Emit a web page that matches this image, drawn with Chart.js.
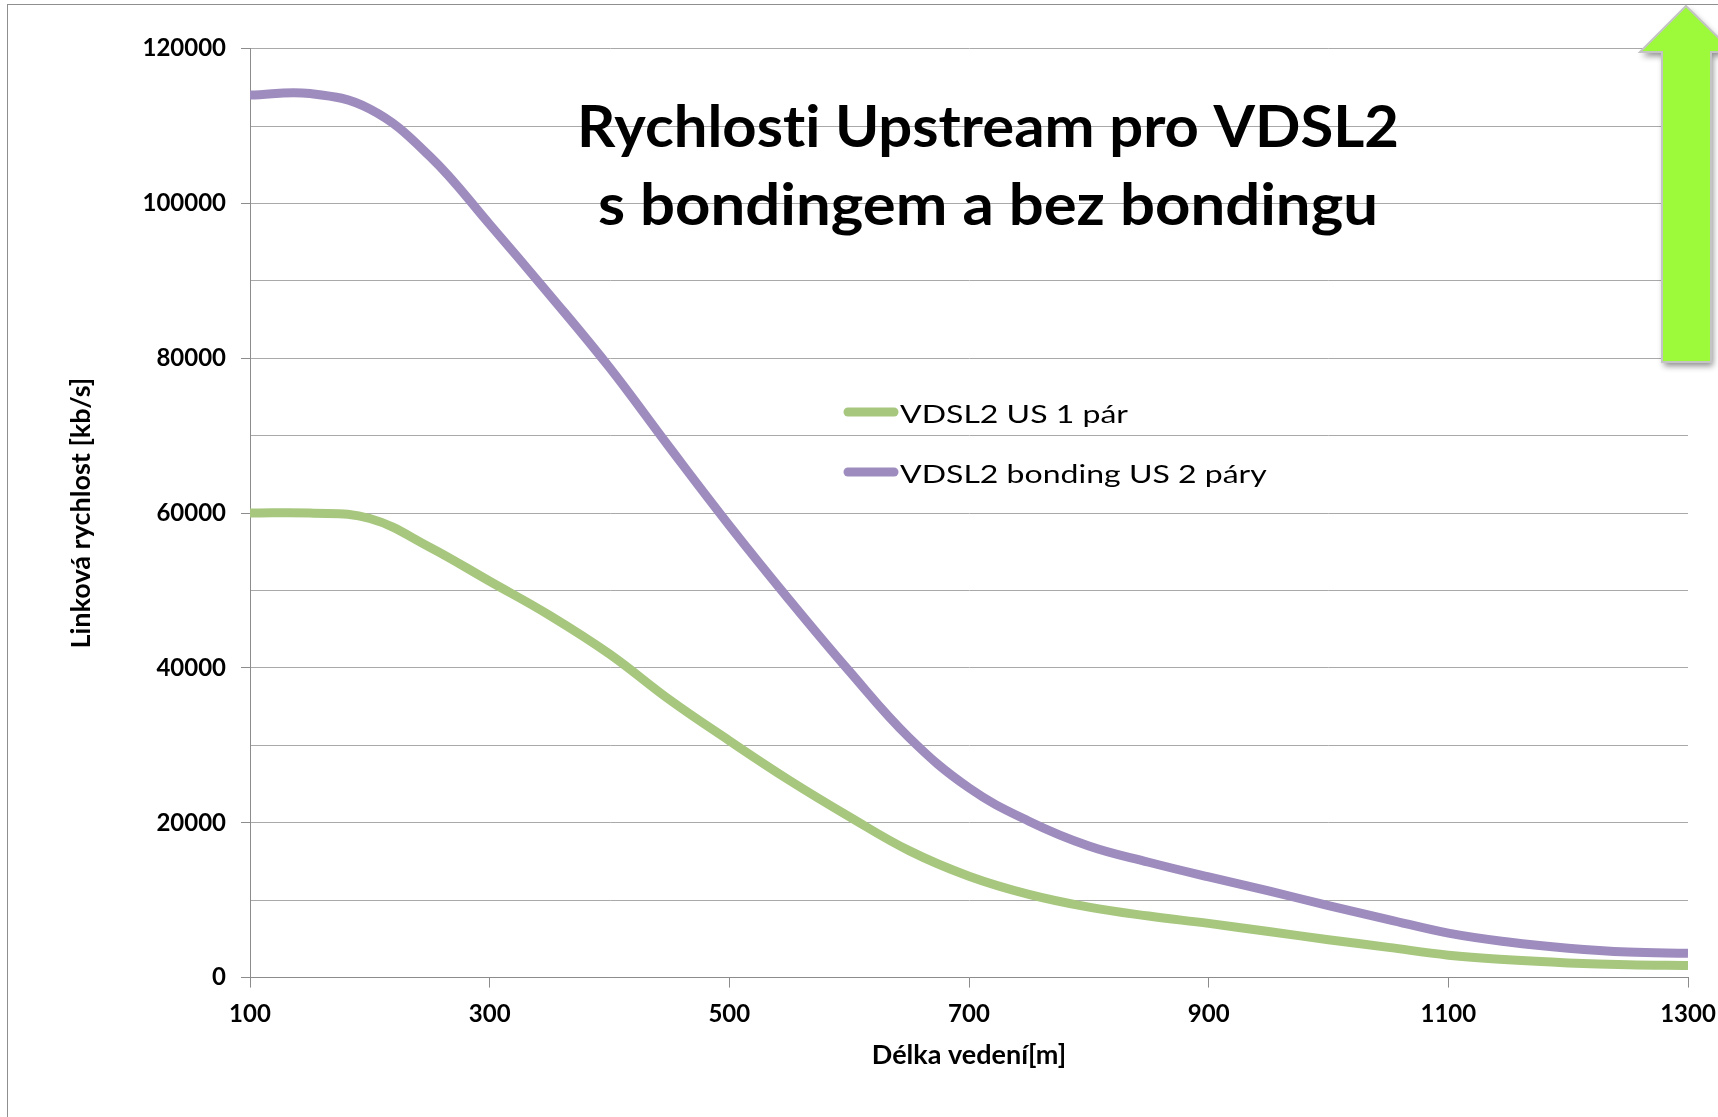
<!DOCTYPE html>
<html>
<head>
<meta charset="utf-8">
<script src="https://cdn.jsdelivr.net/npm/chart.js@4.4.1/dist/chart.umd.min.js"></script>
<style>
  html, body { margin: 0; padding: 0; background: #ffffff; }
  canvas { display: block; }
</style>
</head>
<body>
<canvas id="c" width="1718" height="1117"></canvas>
<script>
// ---- data ----
const distances = [100, 150, 200, 250, 300, 350, 400, 450, 500, 550, 600, 650, 700,
                   750, 800, 850, 900, 950, 1000, 1050, 1100, 1150, 1200, 1250, 1300];
const us1Pair = [60000, 60000, 59300, 55600, 51200, 46800, 41800, 35900, 30600, 25500, 20800, 16400, 13100,
                 10750, 9100, 7950, 7000, 5950, 4900, 3900, 2900, 2300, 1900, 1650, 1550];
const bonding2Pairs = [114000, 114200, 112200, 106100, 97300, 88200, 78800, 68500, 58400, 48800, 39600, 31000, 24500,
                       20200, 17000, 14900, 13000, 11200, 9300, 7500, 5750, 4600, 3800, 3300, 3150];
const seriesNames = ['VDSL2 US 1 pár', 'VDSL2 bonding US 2 páry'];
const seriesColors = ['#a7c77f', '#9e8cbe'];
const xTickValues = [100, 300, 500, 700, 900, 1100, 1300];
const yTickValues = [0, 20000, 40000, 60000, 80000, 100000, 120000];
const titleLines = ['Rychlosti Upstream pro VDSL2', 's bondingem a bez bondingu'];
const xAxisTitle = 'Délka vedení[m]';
const yAxisTitle = 'Linková rychlost [kb/s]';

const FONT = 'Lato, "Open Sans", "DejaVu Sans", sans-serif';

function toPoints(xs, ys) { return xs.map((x, i) => ({ x: x, y: ys[i] })); }

function measure(ctx, text, font) {
  ctx.save();
  ctx.font = font;
  try { ctx.letterSpacing = '0.01px'; } catch (e) {}
  const w = ctx.measureText(text).width;
  ctx.restore();
  return w;
}

function drawScaledText(ctx, text, x, baseline, font, sx, align) {
  ctx.save();
  ctx.font = font;
  try { ctx.letterSpacing = '0.01px'; } catch (e) {}
  ctx.textAlign = align;
  ctx.textBaseline = 'alphabetic';
  ctx.translate(x, baseline);
  ctx.scale(sx, 1);
  ctx.fillStyle = '#000000';
  ctx.fillText(text, 0, 0);
  ctx.restore();
}

const decor = {
  id: 'decor',
  afterDraw(chart) {
    const ctx = chart.ctx;
    ctx.save();
    // outer frame
    ctx.strokeStyle = '#8f8f8f';
    ctx.lineWidth = 1;
    ctx.strokeRect(7.5, 4.5, 1900, 1300);

    // title
    const tFont = 'bold 57px ' + FONT;
    const tsx1 = 822 / measure(ctx, titleLines[0], tFont);
    const tsx2 = 780 / measure(ctx, titleLines[1], tFont);
    drawScaledText(ctx, titleLines[0], 988, 147, tFont, tsx1, 'center');
    drawScaledText(ctx, titleLines[1], 988, 225, tFont, tsx2, 'center');

    // legend
    const lFont = '25.5px ' + FONT;
    const lsx = 228 / measure(ctx, chart.data.datasets[0].label, lFont);
    const rows = [412, 472];
    chart.data.datasets.forEach((ds, i) => {
      ctx.save();
      ctx.strokeStyle = ds.borderColor;
      ctx.lineWidth = 9;
      ctx.lineCap = 'round';
      ctx.beginPath();
      ctx.moveTo(848, rows[i]);
      ctx.lineTo(894, rows[i]);
      ctx.stroke();
      ctx.restore();
      drawScaledText(ctx, ds.label, 900, rows[i] + 11, lFont, lsx, 'left');
    });

    // green arrow
    ctx.save();
    ctx.beginPath();
    ctx.moveTo(1686, 6);
    ctx.lineTo(1733, 52);
    ctx.lineTo(1711, 52);
    ctx.lineTo(1711, 362);
    ctx.lineTo(1662, 362);
    ctx.lineTo(1662, 52);
    ctx.lineTo(1640, 52);
    ctx.closePath();
    ctx.shadowColor = 'rgba(0,0,0,0.45)';
    ctx.shadowBlur = 6;
    ctx.shadowOffsetX = 2;
    ctx.shadowOffsetY = 4;
    ctx.fillStyle = '#9dfa3a';
    ctx.fill();
    ctx.shadowColor = 'rgba(0,0,0,0)';
    ctx.strokeStyle = '#c4c4c4';
    ctx.lineWidth = 2;
    ctx.stroke();
    ctx.restore();

    ctx.restore();
  }
};

Chart.defaults.font.family = FONT;
Chart.defaults.color = '#000000';

new Chart(document.getElementById('c'), {
  type: 'line',
  data: {
    datasets: [
      { label: seriesNames[0], data: toPoints(distances, us1Pair), borderColor: seriesColors[0],
        borderWidth: 9, pointRadius: 0, tension: 0.4, fill: false },
      { label: seriesNames[1], data: toPoints(distances, bonding2Pairs), borderColor: seriesColors[1],
        borderWidth: 9, pointRadius: 0, tension: 0.4, fill: false }
    ]
  },
  options: {
    responsive: false,
    animation: false,
    devicePixelRatio: 1,
    layout: { padding: { left: 0, right: 30, top: 48.6, bottom: 0 } },
    plugins: { legend: { display: false }, title: { display: false }, tooltip: { enabled: false } },
    scales: {
      x: {
        type: 'linear',
        min: 100, max: 1300,
        afterFit(scale) { scale.height = 1117 - 977.6; scale.paddingRight = 0; scale.paddingLeft = 0; },
        afterBuildTicks(scale) { scale.ticks = xTickValues.map(v => ({ value: v })); },
        ticks: { font: { size: 24, weight: 'bold' }, padding: 12, maxRotation: 0, autoSkip: false, color: '#000',
                 callback: (v) => String(v) },
        grid: { drawOnChartArea: false, drawTicks: true, tickLength: 10, color: '#8c8c8c', lineWidth: 1 },
        border: { display: true, color: '#8c8c8c', width: 1 },
        title: { display: true, text: xAxisTitle, font: { size: 27, weight: 'bold' }, color: '#000',
                 padding: { top: 0, bottom: 46 } }
      },
      y: {
        type: 'linear',
        min: 0, max: 120000,
        afterFit(scale) { scale.width = 250; scale.paddingTop = 0; scale.paddingBottom = 0; },
        ticks: {
          stepSize: 10000,
          font: { size: 24, weight: 'bold' },
          padding: 15,
          color: '#000',
          callback: (v) => (yTickValues.includes(v) ? String(v) : '')
        },
        grid: {
          color: '#a9a9a9', lineWidth: 1, drawTicks: true, tickLength: 9,
          tickColor: (c) => (c.tick && yTickValues.includes(c.tick.value) ? '#8c8c8c' : 'rgba(0,0,0,0)')
        },
        border: { display: true, color: '#8c8c8c', width: 1 },
        title: { display: true, text: yAxisTitle, font: { size: 27, weight: 'bold' }, color: '#000',
                 padding: { top: 65, bottom: 0 } }
      }
    }
  },
  plugins: [decor]
});
</script>
</body>
</html>
